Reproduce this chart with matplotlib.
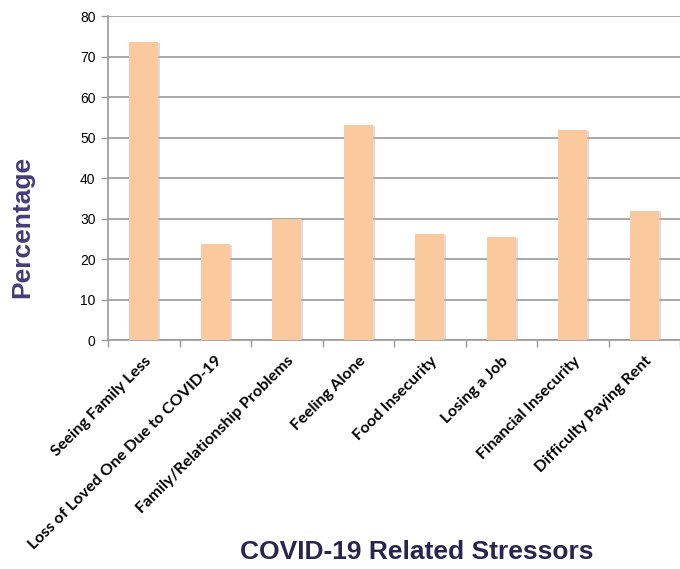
import matplotlib
matplotlib.use("Agg")
import matplotlib.pyplot as plt
import matplotlib.patheffects as pe
import numpy as np

categories = ["Seeing Family Less", "Loss of Loved One Due to COVID-19",
              "Family/Relationship Problems", "Feeling Alone", "Food Insecurity",
              "Losing a Job", "Financial Insecurity", "Difficulty Paying Rent"]
values = [73.6, 23.65, 29.9, 53.1, 26.1, 25.4, 51.9, 32.0]
yticks = [0, 10, 20, 30, 40, 50, 60, 70, 80]

fig = plt.figure(figsize=(6.8, 5.69), dpi=100)
ax = fig.add_axes([108/680, 1-340/569, 1-108/680, (340-16.3)/569])

x = np.arange(len(categories))
bars = ax.bar(x, values, width=0.4, color="#FACA9E", zorder=3)
for b in bars:
    b.set_path_effects([pe.SimplePatchShadow(offset=(1.5, -0.5), shadow_rgbFace="#BBBBBB", alpha=0.5), pe.Normal()])

ax.set_ylim(0, 80)
ax.set_xlim(-0.5, len(categories) - 0.5 - 5/72)
ax.set_yticks(yticks)
ax.set_yticklabels([str(v) for v in yticks], fontsize=10, family="Liberation Sans")
ax.yaxis.grid(True, color="#9A9A9A", linewidth=1.2, zorder=0)
ax.set_axisbelow(True)

ax.set_xticks(np.arange(-0.5, len(categories)))
ax.set_xticklabels([])
ax.tick_params(axis="x", which="major", length=5, color="#9A9A9A", width=1)
ax.tick_params(axis="y", length=5, color="#9A9A9A", width=1, pad=4)

for i, c in enumerate(categories):
    ax.annotate(c, xy=(i, 0), xycoords=("data", "axes fraction"),
                xytext=(0, -10), textcoords="offset points",
                rotation=45, ha="right", va="top", rotation_mode="anchor",
                fontsize=11.6, fontweight="bold", family="Lato", color="black")

for s in ["top", "right"]:
    ax.spines[s].set_visible(False)
for s in ["left", "bottom"]:
    ax.spines[s].set_color("#9A9A9A")
    ax.spines[s].set_linewidth(1.2)

fig.text(22/680, 1-227/569, "Percentage", rotation=90, ha="center", va="center",
         fontsize=19, fontweight="bold", family="Liberation Sans", color="#463B7A")
fig.text(417/680, 1-552/569, "COVID-19 Related Stressors", ha="center", va="center",
         fontsize=19, fontweight="bold", family="Liberation Sans", color="#28264F")

fig.savefig("out.png", dpi=100)
